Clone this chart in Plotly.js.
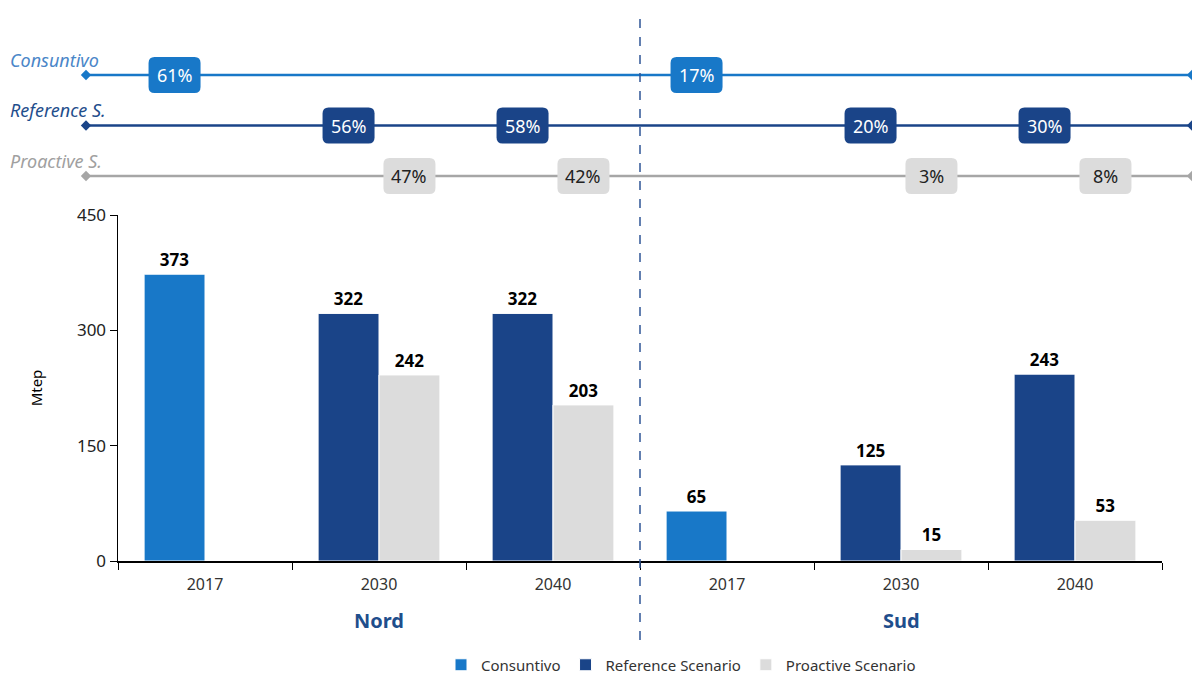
<!DOCTYPE html>
<html><head><meta charset="utf-8">
<script src="https://cdn.plot.ly/plotly-3.0.1.min.js"></script>
<style>html,body{margin:0;padding:0;background:#fff}#chart{width:1192px;height:675px}</style>
</head><body><div id="chart"></div>
<script>
// ---- data ----
const categoryIds = ["Nord 2017","Nord 2030","Nord 2040","Sud 2017","Sud 2030","Sud 2040"];
const yearLabels = ["2017","2030","2040","2017","2030","2040"];
const regions = ["Nord","Sud"];
const seriesNames = ["Consuntivo","Reference Scenario","Proactive Scenario"];
const rowLabels = ["Consuntivo","Reference S.","Proactive S."];
const consuntivo = [373, null, null, 65, null, null];
const reference  = [null, 322, 322, null, 125, 243];
const proactive  = [null, 242, 203, null, 15, 53];
const consPct = [61, null, null, 17, null, null];
const refPct  = [null, 56, 58, null, 20, 30];
const proPct  = [null, 47, 42, null, 3, 8];

// ---- styles ----
const C_CONS = "#1878C8", C_REF = "#1A4488", C_PRO = "#DCDCDC";
const LINE_COLORS = ["#1878C8", "#1A4488", "#A6A6A6"];
const LABEL_COLORS = ["#4A86C8", "#1F4E8C", "#A0A0A0"];
const BOX_TEXT = ["#ffffff", "#ffffff", "#222222"];
const FONT = "Noto Sans, Open Sans, sans-serif";
const BARGAP = 0.30;
const OFF = (1 - BARGAP) / 4;  // center offset of two bar slots
const ROW_Y = [2, 1, 0];

function bar(name, y, color, group) {
  return {
    type: "bar", name: name, x: categoryIds, y: y, offsetgroup: group,
    marker: {color: color, line: {color: "#ffffff", width: 1}},
    texttemplate: "%{y}", textposition: "outside", cliponaxis: false,
    textfont: {family: FONT, size: 17, color: "#000", weight: "bold"},
    hoverinfo: "skip"
  };
}
const traces = [
  bar(seriesNames[0], consuntivo, C_CONS, "a"),
  bar(seriesNames[1], reference, C_REF, "a"),
  bar(seriesNames[2], proactive, C_PRO, "b")
];
rowLabels.forEach((lab, r) => {
  traces.push({
    type: "scatter", mode: "lines+markers", x: [0, 1], y: [ROW_Y[r], ROW_Y[r]],
    xaxis: "x2", yaxis: "y2", showlegend: false, cliponaxis: false, hoverinfo: "skip",
    line: {color: LINE_COLORS[r], width: 2.5},
    marker: {symbol: "diamond", size: 8, color: LINE_COLORS[r]}
  });
});

// rounded box path in pixels (relative to anchor)
const BW = 26, BH = 18, RR = 6;
const boxPath = `M ${-BW + RR},${-BH} L ${BW - RR},${-BH} Q ${BW},${-BH} ${BW},${-BH + RR} ` +
  `L ${BW},${BH - RR} Q ${BW},${BH} ${BW - RR},${BH} L ${-BW + RR},${BH} Q ${-BW},${BH} ${-BW},${BH - RR} ` +
  `L ${-BW},${-BH + RR} Q ${-BW},${-BH} ${-BW + RR},${-BH} Z`;

const annotations = [];
const shapes = [{
  type: "line", xref: "x", yref: "paper", x0: 2.5, x1: 2.5,
  y0: 1 - 640 / 675, y1: 1 - 15 / 675,
  line: {color: "#2F5597", width: 1.5, dash: "dash"}
}];
const pctSets = [consPct, refPct, proPct];
const offs = [-OFF, -OFF, OFF];
const boxColors = [C_CONS, C_REF, C_PRO];
pctSets.forEach((arr, r) => {
  arr.forEach((v, i) => {
    if (v === null) return;
    shapes.push({
      type: "path", xref: "x", yref: "y2", xsizemode: "pixel", ysizemode: "pixel",
      xanchor: i + offs[r], yanchor: ROW_Y[r], path: boxPath,
      fillcolor: boxColors[r], line: {width: 0}, layer: "above"
    });
    annotations.push({
      x: i + offs[r], y: ROW_Y[r], xref: "x", yref: "y2", showarrow: false,
      text: v + "%", font: {family: FONT, size: 18, color: BOX_TEXT[r]}
    });
  });
});
rowLabels.forEach((lab, r) => {
  annotations.push({
    x: (8 - 86) / 1106, xref: "paper", xanchor: "left", y: ROW_Y[r] + 0.3, yref: "y2",
    showarrow: false, text: "<i>" + lab + "</i>",
    font: {family: FONT, size: 18, color: LABEL_COLORS[r]}
  });
});
regions.forEach((reg, k) => {
  annotations.push({
    x: 1 + 3 * k, xref: "x", y: 1 - 620 / 675, yref: "paper", yanchor: "middle", showarrow: false,
    text: "<b>" + reg + "</b>", font: {family: FONT, size: 20, color: "#1F4E8C"}
  });
});

const layout = {
  width: 1192, height: 675,
  margin: {l: 86, r: 0, t: 0, b: 0, autoexpand: false},
  paper_bgcolor: "#fff", plot_bgcolor: "rgba(0,0,0,0)",
  barmode: "group", bargap: BARGAP, bargroupgap: 0,
  font: {family: FONT, color: "#333"},
  xaxis: {
    type: "category", domain: [(118 - 86) / 1106, (1162 - 86) / 1106],
    tickmode: "array", tickvals: categoryIds, ticktext: yearLabels,
    tickson: "boundaries", ticks: "outside", ticklen: 7, tickcolor: "#000",
    ticklabelstandoff: 8,
    showline: true, linecolor: "#000", linewidth: 1.5, showgrid: false, zeroline: false,
    tickfont: {family: FONT, size: 16, color: "#333"}, fixedrange: true
  },
  yaxis: {
    domain: [1 - 561 / 675, 1 - 215 / 675], range: [0, 450],
    tickmode: "array", tickvals: [0, 150, 300, 450],
    ticks: "outside", ticklen: 7, tickcolor: "#000",
    showline: true, linecolor: "#000", linewidth: 1.5, showgrid: false, zeroline: false,
    tickfont: {family: FONT, size: 17, color: "#222"},
    title: {text: "Mtep", font: {family: FONT, size: 15, color: "#000"}, standoff: 30}
  },
  xaxis2: {domain: [0, 1], range: [0, 1], anchor: "y2", visible: false, fixedrange: true},
  yaxis2: {domain: [1 - 201.25 / 675, 1 - 49.75 / 675], range: [-0.5, 2.5], anchor: "x2", visible: false},
  shapes: shapes,
  annotations: annotations,
  showlegend: true,
  legend: {
    orientation: "h", xref: "container", x: 681 / 1192, xanchor: "center",
    yref: "container", y: 1 - 665 / 675, yanchor: "middle",
    font: {family: FONT, size: 15, color: "#333"}, traceorder: "normal"
  }
};
Plotly.newPlot("chart", traces, layout, {displayModeBar: false, staticPlot: true});
</script></body></html>
